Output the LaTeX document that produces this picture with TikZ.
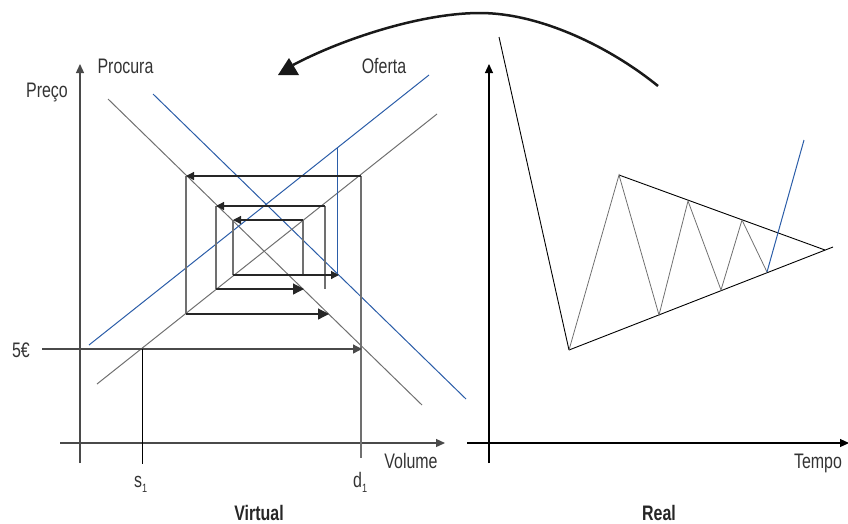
\documentclass[tikz,border=0pt]{standalone}
\usepackage{fontspec}
\setmainfont[FakeStretch=0.76]{Liberation Sans}
\usetikzlibrary{arrows.meta}
\definecolor{lblue}{HTML}{2B5DA8}
\definecolor{lgray}{HTML}{707070}
\definecolor{dgray}{HTML}{4A4A4A}
\definecolor{txt}{HTML}{333333}
\begin{document}
\begin{tikzpicture}[x=1pt,y=-1pt,
  every node/.style={font=\fontsize{21}{24}\selectfont, text=txt, inner sep=0pt, anchor=base},
  boldlbl/.style={font=\fontsize{21}{24}\selectfont\bfseries, text=black!85},
  axisg/.style={line width=1.3pt, draw=dgray, -{Triangle[length=9pt,width=8pt]}},
  axisb/.style={line width=1.1pt, draw=black, -{Triangle[length=9pt,width=8pt]}},
  grayline/.style={line width=1pt, draw=lgray},
  blueline/.style={line width=1pt, draw=lblue},
  side/.style={line width=1.2pt, draw=lgray},
  toparrow/.style={line width=1.2pt, draw=black!85, -{Triangle[length=8pt,width=8pt]}},
  botarrow/.style={line width=1.2pt, draw=black!85, -{Triangle[length=11pt,width=11pt]}},
  thin/.style={line width=0.9pt, draw=black},
  zig/.style={line width=0.8pt, draw=lgray},
  bigcurve/.style={line width=2.5pt, draw=black!90}
]
\useasboundingbox (0,0) rectangle (848,523);

% ---------- Virtual panel ----------
\coordinate (py0) at (80,463); \coordinate (py1) at (80,64);
\coordinate (px0) at (60,443); \coordinate (px1) at (445,443);
\draw[axisg] (py0) -- (py1);
\draw[axisg] (px0) -- (px1);

% demand / supply lines
\draw[grayline] (108,99) -- (422,405);
\draw[blueline] (153,94) -- (466,399);
\draw[blueline] (89,345) -- (429,75);
\draw[grayline] (97,384) -- (437,114);

% cobweb sides
\draw[side] (186,176) -- (186,314);
\draw[side] (361,176) -- (361,458);
\draw[side] (216,206) -- (216,289);
\draw[side] (325,206) -- (325,289);
\draw[side] (233,220) -- (233,275);
\draw[side] (303,220) -- (303,275);
\draw[blueline] (337,147) -- (337,275);

% cobweb arrows
\draw[toparrow] (361,176) -- (186,176);
\draw[toparrow] (325,206) -- (216,206);
\draw[toparrow] (303,220) -- (233,220);
\draw[botarrow] (186,314) -- (329,314);
\draw[botarrow] (216,289) -- (304,289);
\draw[toparrow] (233,275) -- (339,275);

% price line
\draw[line width=1.3pt, draw=dgray, -{Triangle[length=9pt,width=9pt]}] (42,349) -- (362,349);
\draw[thin] (142,349) -- (142,464);

% labels
\node (preco) at (47,97) {Preço};
\node (procura) at (125.5,73) {Procura};
\node (oferta) at (384,73) {Oferta};
\node (euro) at (21,357) {5€};
\node (volume) at (411,468) {Volume};
\node[anchor=base west] (s1) at (134,487) {s\raisebox{-5pt}{\fontsize{12}{13}\selectfont 1}};
\node[anchor=base west] (d1) at (353,487) {d\raisebox{-5pt}{\fontsize{12}{13}\selectfont 1}};
\node[boldlbl] (virtual) at (259,520) {Virtual};

% ---------- Real panel ----------
\draw[axisb] (489,463) -- (489,64);
\draw[axisb] (467,443) -- (849,443);
\draw[thin] (499,37) -- (569,350);
\draw[thin] (569,350) -- (833,247);
\draw[thin] (619,175) -- (825,250);
\draw[zig] (569,350) -- (619,175) -- (659,315) -- (688,201) -- (721,290) -- (742,220) -- (767,272);
\draw[blueline] (767,272) -- (804,140);
\node (tempo) at (818,468) {Tempo};
\node[boldlbl] (real) at (659,520) {Real};

% ---------- big curved arrow ----------
\draw[bigcurve] (658,86) .. controls (610,47) and (540,13) .. (480,13)
   .. controls (420,13) and (340,40) .. (293,65);
\fill[black!90] (278,75) -- (299,75) -- (289,58) -- cycle;
\end{tikzpicture}
\end{document}
